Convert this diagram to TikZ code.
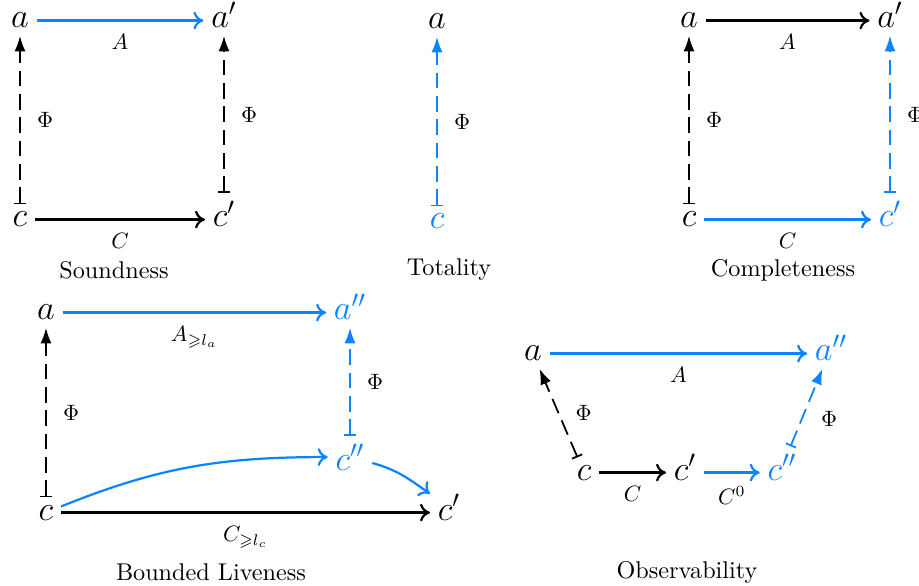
\RequirePackage{fix-cm}
\documentclass[tikz,border=0pt]{standalone}
\usepackage{amssymb}
\usetikzlibrary{arrows.meta}
\definecolor{hl}{RGB}{10,132,255}

\begin{document}
\begin{tikzpicture}[x=0.45pt,y=-0.45pt,
    obj/.style={font=\fontsize{15.5}{18}\selectfont,anchor=base},
    lbl/.style={font=\normalsize,text=black},
    title/.style={font=\fontsize{10.9}{13}\selectfont},
    arr/.style={line width=1pt,-{To[length=4.5pt,width=8pt]}},
    abst/.style={thick,dash pattern=on 7pt off 3.5pt,{Bar[width=5pt]}-{Latex[length=7pt,width=5pt]}}]
\useasboundingbox (0,0) rectangle (919,586);
% soundness
\node[obj] (a1) at (20,28) {$a$};
\node[obj] (ap1) at (224,28) {$a'$};
\node[obj] (c1) at (20,227) {$c$};
\node[obj] (cp1) at (224,227) {$c'$};
\draw[arr,hl] (a1.east) -- (a1.east -| ap1.west) node[lbl,midway,below=2.5pt] {$A$};
\draw[arr] (c1.east) -- (c1.east -| cp1.west) node[lbl,midway,below=2.5pt] {$C$};
\draw[abst] (c1) -- (a1) node[lbl,midway,right=4pt] {$\Phi$};
\draw[abst] (cp1) -- (ap1) node[lbl,midway,right=4pt] {$\Phi$};
\node[title] (t1) at (114,270) {Soundness};
% totality
\node[obj] (a2) at (437,29) {$a$};
\node[obj,hl] (c2) at (437,229) {$c$};
\draw[abst,hl] (c2) -- (a2) node[lbl,midway,right=4pt] {$\Phi$};
\node[title] (t2) at (449,270) {Totality};
% completeness
\node[obj] (a3) at (689,28) {$a$};
\node[obj] (ap3) at (890,28) {$a'$};
\node[obj] (c3) at (689,227) {$c$};
\node[obj,hl] (cp3) at (890,227) {$c'$};
\draw[arr] (a3.east) -- (a3.east -| ap3.west) node[lbl,midway,below=2.5pt] {$A$};
\draw[arr,hl] (c3.east) -- (c3.east -| cp3.west) node[lbl,midway,below=2.5pt] {$C$};
\draw[abst] (c3) -- (a3) node[lbl,midway,right=4pt] {$\Phi$};
\draw[abst,hl] (cp3) -- (ap3) node[lbl,midway,right=4pt] {$\Phi$};
\node[title] (t3) at (783,270) {Completeness};
% bounded liveness
\node[obj] (a4) at (46,320) {$a$};
\node[obj,hl] (app4) at (350,320) {$a''$};
\node[obj] (c4) at (46,520) {$c$};
\node[obj,hl] (cpp4) at (350,470) {$c''$};
\node[obj] (cp4) at (449,520) {$c'$};
\draw[arr,hl] (a4.east) -- (a4.east -| app4.west) node[lbl,midway,below=2.5pt] {$A_{\geqslant l_a}$};
\draw[arr] (c4.east) -- (c4.east -| cp4.west) node[lbl,midway,below=2.5pt] {$C_{\geqslant l_c}$};
\draw[arr,hl] (c4) to[out=22,in=180] (cpp4);
\draw[arr,hl] (cpp4) to[out=-15,in=145] (cp4);
\draw[abst] (c4) -- (a4) node[lbl,midway,right=4pt] {$\Phi$};
\draw[abst,hl] (cpp4) -- (app4) node[lbl,midway,right=4pt] {$\Phi$};
\node[title] (t4) at (211,572) {Bounded Liveness};
% observability
\node[obj] (a5) at (533,361) {$a$};
\node[obj,hl] (app5) at (831,361) {$a''$};
\node[obj] (c5) at (584,480) {$c$};
\node[obj] (cp5) at (685,480) {$c'$};
\node[obj,hl] (cpp5) at (782,480) {$c''$};
\draw[arr,hl] (a5.east) -- (a5.east -| app5.west) node[lbl,midway,below=2.5pt] {$A$};
\draw[arr] (c5.east) -- (c5.east -| cp5.west) node[lbl,midway,below=2.5pt] {$C$};
\draw[arr,hl] (c5.east -| cp5.east) -- (c5.east -| cpp5.west) node[lbl,midway,below=2.5pt] {$C^0$};
\draw[abst] (c5) -- (a5) node[lbl,midway,right=4pt] {$\Phi$};
\draw[abst,hl] (cpp5) -- (app5) node[lbl,pos=0.35,right=5pt] {$\Phi$};
\node[title] (t5) at (687,572) {Observability};
\end{tikzpicture}
\end{document}
